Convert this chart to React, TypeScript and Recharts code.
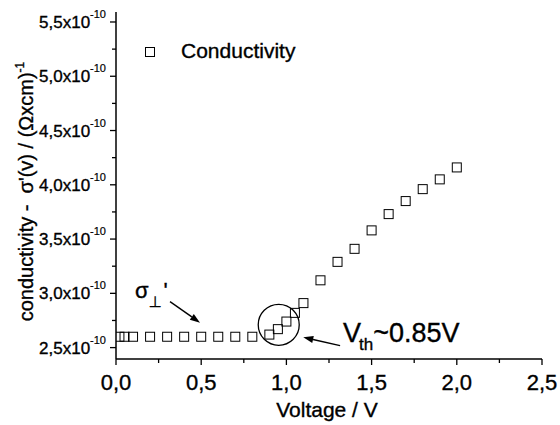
import React from 'react';
import {
  ScatterChart, Scatter, XAxis, YAxis, ReferenceDot, ReferenceLine, Legend, Label,
} from 'recharts';

const FONT = "Arial, 'Liberation Sans', 'DejaVu Sans', sans-serif";
const TXT_STROKE = { stroke: '#000', strokeWidth: 0.35 };

// Measured data: voltage (V) and conductivity sigma'(V) in (Ohm x cm)^-1
const voltage = [0.02, 0.05, 0.1, 0.2, 0.3, 0.4, 0.5, 0.6, 0.7, 0.8, 0.9, 0.95, 1.0, 1.05, 1.1, 1.2, 1.3, 1.4, 1.5, 1.6, 1.7, 1.8, 1.9, 2.0];
const conductivity = [
  2.6e-10, 2.6e-10, 2.6e-10, 2.6e-10, 2.6e-10, 2.6e-10, 2.6e-10, 2.6e-10, 2.6e-10, 2.6e-10,
  2.62e-10, 2.67e-10, 2.74e-10, 2.82e-10, 2.91e-10, 3.12e-10, 3.29e-10, 3.41e-10, 3.58e-10,
  3.73e-10, 3.85e-10, 3.96e-10, 4.05e-10, 4.16e-10,
];

const xTicks = [0, 0.25, 0.5, 0.75, 1.0, 1.25, 1.5, 1.75, 2.0, 2.25, 2.5];
const yTicks = [2.5e-10, 2.75e-10, 3.0e-10, 3.25e-10, 3.5e-10, 3.75e-10, 4.0e-10, 4.25e-10, 4.5e-10, 4.75e-10, 5.0e-10, 5.25e-10, 5.5e-10];
const xDomain = [0, 2.5];
const yDomain = [2.395e-10, 5.592e-10];

// annotations (data coordinates)
const thresholdCircle = { x: 0.955, y: 2.71e-10 };
const sigmaArrow = [{ x: 0.317, y: 2.923e-10 }, { x: 0.493, y: 2.73e-10 }];
const vthArrow = [{ x: 1.315, y: 2.518e-10 }, { x: 1.099, y: 2.595e-10 }];
const sigmaLabelPos = { x: 0.111, y: 2.96e-10 };
const vthLabelPos = { x: 1.332, y: 2.555e-10 };

const data = voltage.map((v, i) => ({ v, s: conductivity[i] }));

const isMajorX = (v: number) => Math.round(v * 4) % 2 === 0;
const isMajorY = (v: number) => Math.round(v * 1e10 * 4) % 2 === 0;
const fmtX = (v: number) => v.toFixed(1).replace('.', ',');
const fmtY = (v: number) => (v * 1e10).toFixed(1).replace('.', ',');

const BottomTick = (props: any) => {
  const { x, y, payload } = props;
  const major = isMajorX(payload.value);
  return (
    <g>
      <line x1={x} x2={x} y1={y} y2={y + (major ? 6 : 4)} stroke="#000" strokeWidth={1.3} />
      {major && (
        <text x={x} y={y + 31} textAnchor="middle" fontFamily={FONT} fontSize={22} fill="#000" {...TXT_STROKE}>
          {fmtX(payload.value)}
        </text>
      )}
    </g>
  );
};

const TopTick = (props: any) => {
  const { x, y, payload } = props;
  const major = isMajorX(payload.value);
  return <line x1={x} x2={x} y1={y} y2={y + (major ? 6 : 4)} stroke="#000" strokeWidth={1.3} />;
};

const LeftTick = (props: any) => {
  const { x, y, payload } = props;
  const major = isMajorY(payload.value);
  return (
    <g>
      <line x1={x - (major ? 6 : 4)} x2={x} y1={y} y2={y} stroke="#000" strokeWidth={1.3} />
      {major && (
        <text x={x - 10} y={y + 6} textAnchor="end" fontFamily={FONT} fontSize={17} fill="#000" {...TXT_STROKE}>
          {fmtY(payload.value)}x10
          <tspan fontSize={11} dy={-10} strokeWidth={0.2}>-10</tspan>
        </text>
      )}
    </g>
  );
};

const RightTick = (props: any) => {
  const { x, y, payload } = props;
  const major = isMajorY(payload.value);
  return <line x1={x - (major ? 6 : 4)} x2={x} y1={y} y2={y} stroke="#000" strokeWidth={1.3} />;
};

const SquareShape = (props: any) => {
  const { cx, cy } = props;
  return <rect x={cx - 4.5} y={cy - 4.5} width={9} height={9} fill="none" stroke="#000" strokeWidth={1} />;
};

const arrowShape = (props: any) => {
  const { x1, y1, x2, y2 } = props;
  const ang = Math.atan2(y2 - y1, x2 - x1);
  const L = 10;
  const W = 3.5;
  const bx = x2 - L * Math.cos(ang);
  const by = y2 - L * Math.sin(ang);
  const px = -Math.sin(ang) * W;
  const py = Math.cos(ang) * W;
  return (
    <g>
      <line x1={x1} y1={y1} x2={bx} y2={by} stroke="#000" strokeWidth={1.4} />
      <polygon points={`${x2},${y2} ${bx + px},${by + py} ${bx - px},${by - py}`} fill="#000" />
    </g>
  );
};

const sigmaText = (props: any) => {
  const { cx, cy } = props;
  return (
    <text x={cx} y={cy} fontFamily={FONT} fontSize={22} fill="#000" {...TXT_STROKE}>
      σ
      <tspan fontSize={15} dy={9} dx={0}>⊥</tspan>
      <tspan dy={-9} dx={2}>'</tspan>
    </text>
  );
};

const vthText = (props: any) => {
  const { cx, cy } = props;
  return (
    <text x={cx} y={cy} fontFamily={FONT} fontSize={27} fill="#000" {...TXT_STROKE}>
      V
      <tspan fontSize={17} dy={8} dx={-2}>th</tspan>
      <tspan dy={-8}>~0.85V</tspan>
    </text>
  );
};

const renderLegend = (props: any) => {
  const item = props.payload && props.payload[0];
  return (
    <svg width={320} height={70} style={{ display: 'block' }}>
      <rect x={145.5} y={47.5} width={9} height={9} fill="none" stroke="#000" strokeWidth={1} />
      <text x={181} y={58} fontFamily={FONT} fontSize={21} fill="#000" {...TXT_STROKE}>
        {item ? item.value : 'Conductivity'}
      </text>
    </svg>
  );
};

const renderYLabel = (props: any) => {
  const vb = props.viewBox;
  const cx = vb.x + 33;
  const cy = vb.y + vb.height / 2 + 6;
  return (
    <text
      x={cx}
      y={cy}
      transform={`rotate(-90, ${cx}, ${cy})`}
      textAnchor="middle"
      fontFamily={FONT}
      fontSize={20}
      fill="#000"
      {...TXT_STROKE}
    >
      {'conductivity -\u00a0\u00a0σ\'(v) / (Ωxcm)'}
      <tspan fontSize={12} dy={-9}>-1</tspan>
    </text>
  );
};

const renderXLabel = (props: any) => {
  const vb = props.viewBox;
  return (
    <text x={vb.x + vb.width / 2 - 2} y={vb.y + 58} textAnchor="middle" fontFamily={FONT} fontSize={21} fill="#000" {...TXT_STROKE}>
      Voltage / V
    </text>
  );
};

export default function App() {
  return (
    <div style={{ position: 'absolute', left: 0, top: 0, background: '#fff' }}>
      <ScatterChart width={560} height={425} margin={{ top: 12, right: 18, bottom: 0, left: 0 }}>
        <XAxis
          type="number"
          dataKey="v"
          domain={xDomain}
          ticks={xTicks}
          interval={0}
          allowDataOverflow
          height={66}
          tickSize={0}
          tickMargin={0}
          tickLine={false}
          axisLine={{ stroke: '#000', strokeWidth: 1.5 }}
          tick={(p: any) => <BottomTick {...p} />}
        >
          <Label content={renderXLabel} />
        </XAxis>
        <XAxis
          xAxisId="top"
          orientation="top"
          type="number"
          domain={xDomain}
          ticks={xTicks}
          interval={0}
          allowDataOverflow
          height={0}
          tickSize={0}
          tickMargin={0}
          tickLine={false}
          axisLine={{ stroke: '#000', strokeWidth: 1.5 }}
          tick={(p: any) => <TopTick {...p} />}
        />
        <YAxis
          type="number"
          dataKey="s"
          domain={yDomain}
          ticks={yTicks}
          interval={0}
          allowDataOverflow
          width={116}
          tickSize={0}
          tickMargin={0}
          tickLine={false}
          axisLine={{ stroke: '#000', strokeWidth: 1.5 }}
          tick={(p: any) => <LeftTick {...p} />}
        >
          <Label content={renderYLabel} />
        </YAxis>
        <YAxis
          yAxisId="right"
          orientation="right"
          type="number"
          domain={yDomain}
          ticks={yTicks}
          interval={0}
          allowDataOverflow
          width={0}
          tickSize={0}
          tickMargin={0}
          tickLine={false}
          axisLine={{ stroke: '#000', strokeWidth: 1.5 }}
          tick={(p: any) => <RightTick {...p} />}
        />
        <Legend
          layout="vertical"
          align="center"
          verticalAlign="middle"
          content={renderLegend}
          wrapperStyle={{ left: 0, top: 0, width: 320, height: 70 }}
        />
        <Scatter
          name="Conductivity"
          data={data}
          isAnimationActive={false}
          shape={(p: any) => <SquareShape {...p} />}
        />
        <ReferenceDot
          x={thresholdCircle.x}
          y={thresholdCircle.y}
          r={20.5}
          fill="none"
          stroke="#000"
          strokeWidth={1.3}
        />
        <ReferenceLine segment={sigmaArrow} shape={arrowShape} />
        <ReferenceLine segment={vthArrow} shape={arrowShape} />
        <ReferenceDot x={sigmaLabelPos.x} y={sigmaLabelPos.y} r={1} shape={sigmaText} />
        <ReferenceDot x={vthLabelPos.x} y={vthLabelPos.y} r={1} shape={vthText} />
      </ScatterChart>
    </div>
  );
}
